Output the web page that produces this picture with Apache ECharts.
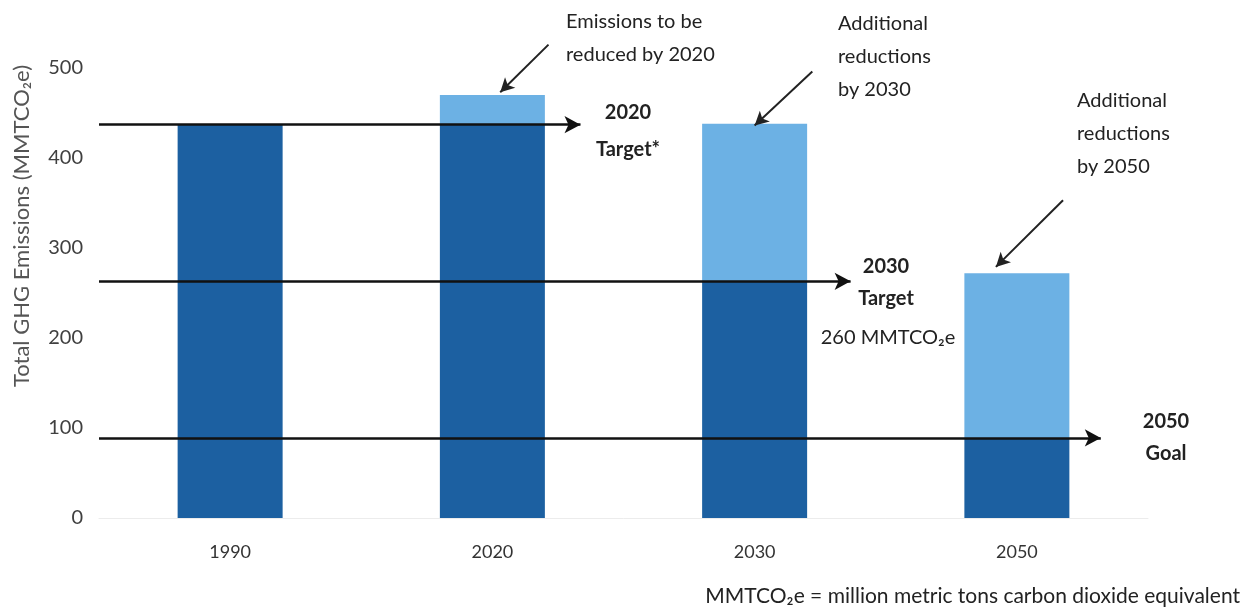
<!DOCTYPE html>
<html><head><meta charset="utf-8">
<script src="https://cdn.jsdelivr.net/npm/echarts@6/dist/echarts.min.js"></script>
<style>html,body{margin:0;padding:0;background:#fff}#c{width:1246px;height:610px}</style>
</head><body><div id="c"></div>
<script>
const categories = ['1990', '2020', '2030', '2050'];
const baseEmissions = [437, 437, 263, 89];          // dark blue segment
const reductions = [0, 33, 175, 183];               // light blue segment on top
const yTicks = [0, 100, 200, 300, 400, 500];
// target lines: value and where the arrow ends (category-index units)
const targetValues = [437, 263, 89];
const targetArrowEnds = [1.336, 2.366, 3.32];
// pointer arrows [tailX, tailY, headX, headY] in data units
const pointerArrows = [
  [1.214, 526, 1.03, 473],
  [2.22, 496, 2.0, 436],
  [3.176, 353, 2.92, 279]
];

const FONT = 'Lato, "Open Sans", sans-serif';
const chart = echarts.init(document.getElementById('c'), null, {renderer: 'canvas'});

const markData = [];
targetValues.forEach((v, i) => {
  markData.push([{coord: [-0.5, v]}, {coord: [targetArrowEnds[i], v]}]);
});
const pointerData = pointerArrows.map(a => [{coord: [a[0], a[1]]}, {coord: [a[2], a[3]]}]);

function txt(x, y, lines, opt) {
  return {
    type: 'text', x: x, y: y, z: 100,
    style: Object.assign({
      text: lines, font: '20px ' + FONT, fill: '#222', lineHeight: 33,
      align: 'left', verticalAlign: 'middle'
    }, opt || {})
  };
}

chart.setOption({
  animation: false,
  grid: {left: 99, right: 98, top: 14, bottom: 92},
  xAxis: [{
    type: 'category', data: categories,
    axisLine: {show: true, lineStyle: {color: '#ececec', width: 1}},
    axisTick: {show: false},
    axisLabel: {margin: 25, fontSize: 18, color: '#333', fontFamily: FONT}
  }, {
    type: 'value', min: -0.5, max: 3.5, show: false
  }],
  yAxis: {
    type: 'value', min: 0, max: 560, interval: 100,
    splitLine: {show: false}, axisLine: {show: false}, axisTick: {show: false},
    axisLabel: {margin: 16, fontSize: 20, color: '#404040', fontFamily: FONT, showMaxLabel: false}
  },
  series: [{
    type: 'bar', stack: 'e', data: baseEmissions, barWidth: 105,
    itemStyle: {color: '#1c60a1'}
  }, {
    type: 'bar', stack: 'e', data: reductions, barWidth: 105,
    itemStyle: {color: '#6cb1e4'}
  }, {
    type: 'line', xAxisIndex: 1, data: [], silent: true,
    markLine: {
      silent: true, symbol: ['none', 'arrow'], symbolSize: [13, 16],
      label: {show: false},
      lineStyle: {type: 'solid', color: '#111', width: 2.5},
      data: markData
    }
  }, {
    type: 'line', xAxisIndex: 1, data: [], silent: true,
    markLine: {
      silent: true, symbol: ['none', 'arrow'], symbolSize: [11, 14],
      label: {show: false},
      lineStyle: {type: 'solid', color: '#222', width: 2},
      data: pointerData
    }
  }],
  graphic: [
    {type: 'text', x: 22, y: 226, rotation: Math.PI / 2, z: 100,
      style: {text: 'Total GHG Emissions (MMTCO\u2082e)', font: '22px ' + FONT, fill: '#555',
        align: 'center', verticalAlign: 'middle'}},
    txt(566, 38, 'Emissions to be\nreduced by 2020'),
    txt(838, 57, 'Additional\nreductions\nby 2030'),
    txt(1077, 134, 'Additional\nreductions\nby 2050'),
    txt(628, 131, '2020\nTarget*', {align: 'center', font: 'bold 20px ' + FONT, lineHeight: 37}),
    txt(886, 283, '2030\nTarget', {align: 'center', font: 'bold 20px ' + FONT, lineHeight: 32}),
    txt(888, 338, '260 MMTCO\u2082e', {align: 'center'}),
    txt(1166, 438, '2050\nGoal', {align: 'center', font: 'bold 20px ' + FONT, lineHeight: 32}),
    txt(1240, 596, 'MMTCO\u2082e = million metric tons carbon dioxide equivalent', {align: 'right', font: '21px ' + FONT})
  ]
});
</script></body></html>
